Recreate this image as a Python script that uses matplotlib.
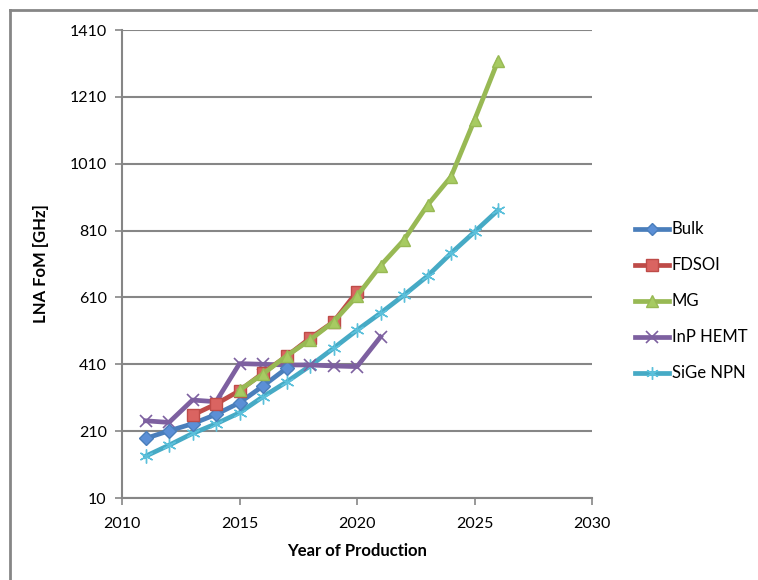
import numpy as np
import matplotlib.pyplot as plt
from matplotlib.lines import Line2D

# data
years_bulk = [2011, 2012, 2013, 2014, 2015, 2016, 2017]
bulk = [188, 211, 232, 260, 295, 345, 398]

years_fdsoi = [2013, 2014, 2015, 2016, 2017, 2018, 2019, 2020]
fdsoi = [258, 291, 331, 384, 434, 488, 537, 627]

years_mg = [2015, 2016, 2017, 2018, 2019, 2020, 2021, 2022, 2023, 2024, 2025, 2026]
mg = [333, 381, 435, 483, 537, 614, 705, 782, 886, 971, 1141, 1318]

years_inp = [2011, 2012, 2013, 2014, 2015, 2016, 2017, 2018, 2019, 2020, 2021]
inp = [241, 236, 303, 298, 412, 410, 408, 408, 405, 403, 492]

years_sige = [2011, 2012, 2013, 2014, 2015, 2016, 2017, 2018, 2019, 2020, 2021, 2022, 2023, 2024, 2025, 2026]
sige = [135, 168, 203, 232, 265, 313, 357, 405, 458, 512, 563, 617, 674, 742, 806, 871]

series_names = ['Bulk', 'FDSOI', 'MG', 'InP HEMT', 'SiGe NPN']
yticks = [10, 210, 410, 610, 810, 1010, 1210, 1410]
xticks = [2010, 2015, 2020, 2025, 2030]

# colours
blue = '#4A7EBB'
red = '#BE4B48'
green = '#98B954'
purple = '#7D60A0'
cyan = '#46AAC5'
grey = '#868686'

plt.rcParams['font.family'] = ['Lato', 'DejaVu Sans']

fig = plt.figure(figsize=(7.58, 5.80), dpi=100)
ax = fig.add_axes([122 / 758, 82 / 580, 470 / 758, 468 / 580])

lw = 3.4
ms = 8
ax.plot(years_bulk, bulk, color=blue, lw=lw, marker='D', ms=ms * 0.85,
        mfc='#5B8FD6', mec=blue, label=series_names[0], zorder=3)
ax.plot(years_fdsoi, fdsoi, color=red, lw=lw, marker='s', ms=ms + 1,
        mfc='#DA6461', mec=red, label=series_names[1], zorder=4)
ax.plot(years_mg, mg, color=green, lw=lw, marker='^', ms=ms + 1,
        mfc='#A7CB62', mec=green, label=series_names[2], zorder=5)
ax.plot(years_inp, inp, color=purple, lw=lw, marker='x', ms=ms + 1,
        mew=1.2, mec=purple, label=series_names[3], zorder=2)
ax.plot(years_sige, sige, color=cyan, lw=lw, marker=(6, 2, 0), ms=ms + 2,
        mew=1.0, mec='#5BC0DB', label=series_names[4], zorder=1)

# axes and grid
ax.set_xlim(2010, 2030)
ax.set_ylim(10, 1410)
ax.set_xticks(xticks)
ax.set_yticks(yticks)
ax.grid(axis='y', color=grey, lw=1.5)
ax.set_axisbelow(True)
for side in ['top', 'right']:
    ax.spines[side].set_visible(False)
for side in ['left', 'bottom']:
    ax.spines[side].set_color(grey)
    ax.spines[side].set_linewidth(1.5)
ax.tick_params(axis='both', direction='out', color=grey, width=1.2,
               length=5, labelsize=11.5, colors='black')
ax.tick_params(axis='y', pad=6)
ax.tick_params(axis='x', pad=9)

ax.set_xlabel('Year of Production', fontsize=12, fontweight='bold', labelpad=8)
ax.set_ylabel('LNA FoM [GHz]', fontsize=12, fontweight='bold', labelpad=10)
ax.yaxis.set_label_coords(-0.155, 0.5)

ax.legend(loc='center left', bbox_to_anchor=(1.06, 0.42), frameon=False,
          fontsize=12, handlelength=2.0, handletextpad=0.2, labelspacing=1.2,
          markerscale=0.9)

# outer frame (top and left edge only visible)
fig.add_artist(Line2D([10 / 758, 1.0], [1 - 10 / 580, 1 - 10 / 580],
                      transform=fig.transFigure, color=grey, lw=2))
fig.add_artist(Line2D([10 / 758, 10 / 758], [0, 1 - 10 / 580],
                      transform=fig.transFigure, color=grey, lw=2))

fig.savefig('out.png', dpi=100)
